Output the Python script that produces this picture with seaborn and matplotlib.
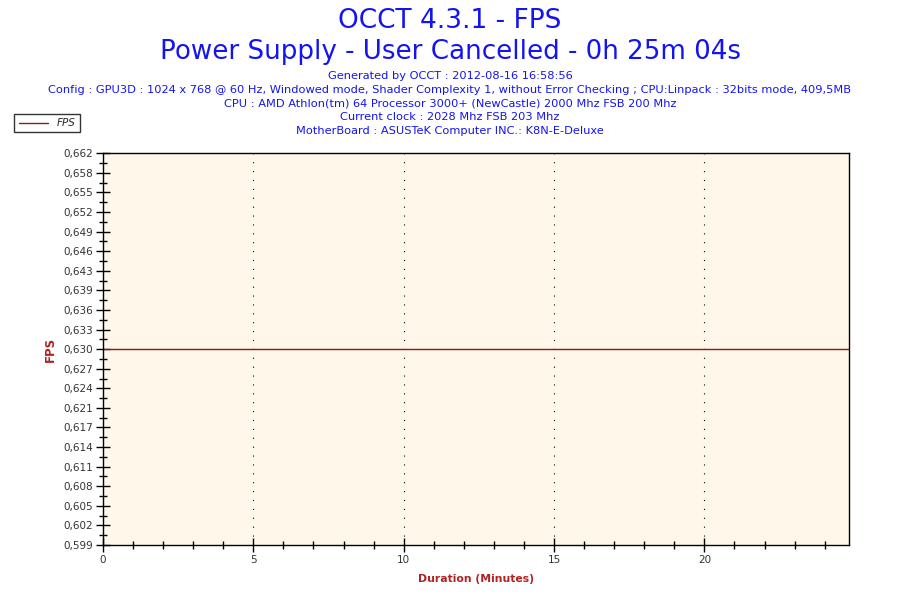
import matplotlib
matplotlib.use("Agg")
import matplotlib.pyplot as plt
import seaborn as sns
import pandas as pd
from matplotlib.ticker import MultipleLocator, FixedLocator

# data
minutes = [0.0, 5.0, 10.0, 15.0, 20.0, 24.82]
fps = [0.630, 0.630, 0.630, 0.630, 0.630, 0.630]
y_ticks = [0.5985, 0.60165, 0.6048, 0.60795, 0.6111, 0.61425, 0.6174,
           0.62055, 0.6237, 0.62685, 0.630, 0.63315, 0.6363, 0.63945,
           0.6426, 0.64575, 0.6489, 0.65205, 0.6552, 0.65835, 0.6615]
y_labels = ["0,599", "0,602", "0,605", "0,608", "0,611", "0,614", "0,617",
            "0,621", "0,624", "0,627", "0,630", "0,633", "0,636", "0,639",
            "0,643", "0,646", "0,649", "0,652", "0,655", "0,658", "0,662"]
x_ticks = [0, 5, 10, 15, 20]

title = "OCCT 4.3.1 - FPS"
subtitle = "Power Supply - User Cancelled - 0h 25m 04s"
info = [
    "Generated by OCCT : 2012-08-16 16:58:56",
    "Config : GPU3D : 1024 x 768 @ 60 Hz, Windowed mode, Shader Complexity 1, without Error Checking ; CPU:Linpack : 32bits mode, 409,5MB",
    "CPU : AMD Athlon(tm) 64 Processor 3000+ (NewCastle) 2000 Mhz FSB 200 Mhz",
    "Current clock : 2028 Mhz FSB 203 Mhz",
    "MotherBoard : ASUSTeK Computer INC.: K8N-E-Deluxe",
]

df = pd.DataFrame({"Duration": minutes, "FPS": fps})

sns.set_style("ticks")
plt.rcParams["font.family"] = ["DejaVu Sans"]

fig = plt.figure(figsize=(9, 6), dpi=100)
ax = fig.add_axes([0.1144, 0.0917, 0.8293, 0.6528])
ax.set_facecolor("#fff7e9")

sns.lineplot(data=df, x="Duration", y="FPS", ax=ax, color="#8b1a1a",
             linewidth=1.0, label="FPS", legend=False)

ax.set_xlim(0, 24.82)
ax.set_ylim(y_ticks[0], y_ticks[-1])
ax.xaxis.set_major_locator(FixedLocator(x_ticks))
ax.xaxis.set_minor_locator(MultipleLocator(1))
ax.yaxis.set_major_locator(FixedLocator(y_ticks))
ax.set_yticklabels(y_labels)
ax.yaxis.set_minor_locator(MultipleLocator(0.001575))

for v in x_ticks[1:]:
    ax.axvline(v, color="black", linestyle=(0, (1, 7)), linewidth=0.8, zorder=1)

for s in ax.spines.values():
    s.set_color("black")
    s.set_linewidth(1.0)

ax.tick_params(which="major", direction="inout", length=10, width=1,
               colors="black", labelcolor="#333333", labelsize=7.5, pad=2)
ax.tick_params(which="minor", direction="inout", length=6, width=1, colors="black")

ax.set_xlabel("Duration (Minutes)", color="#b22222", fontsize=7.8,
              fontweight="bold", labelpad=7)
ax.set_ylabel("FPS", color="#b22222", fontsize=8.5, fontweight="bold", labelpad=5)

fig.text(0.5, 0.965, title, ha="center", va="center", color="#1414f0", fontsize=19)
fig.text(0.5, 0.914, subtitle, ha="center", va="center", color="#1414f0", fontsize=18.8)
for i, line in enumerate(info):
    fig.text(0.5, 0.873 - i * 0.0228, line, ha="center", va="center",
             color="#1414f0", fontsize=8.2)

leg = fig.legend(handles=ax.get_lines()[:1], labels=["FPS"],
                 loc="upper left", bbox_to_anchor=(0.016, 0.81),
                 frameon=True, fancybox=False,
                 prop={"style": "italic", "size": 7.5},
                 handlelength=2.8, borderpad=0.4, borderaxespad=0,
                 handletextpad=0.9)
leg.get_frame().set_edgecolor("black")
leg.get_frame().set_linewidth(1.0)

fig.savefig("out.png", dpi=100, facecolor="white")
